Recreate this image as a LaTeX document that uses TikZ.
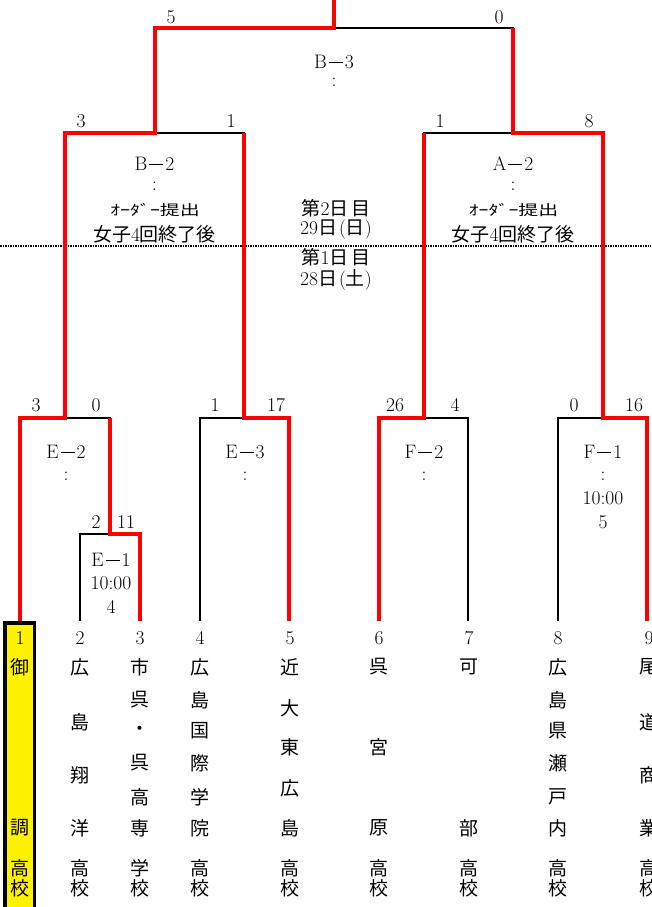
\documentclass[tikz,border=0pt]{standalone}
\usepackage{fontspec}
\usepackage{graphicx}
\newfontfamily\Jf{Noto Sans CJK JP}
\newcommand{\J}{\fontsize{19}{22}\selectfont\Jf}
\newcommand{\dsh}{\hspace{2pt}\rule[6pt]{14pt}{0.9pt}\hspace{2pt}}
\begin{document}
\begin{tikzpicture}[x=1pt,y=-1pt,
  every node/.style={inner sep=0pt,font=\fontsize{19.5}{22}\selectfont},
  blk/.style={line width=2pt,black},
  win/.style={line width=4pt,red},
  dotline/.style={line width=1.5pt,dash pattern=on 1.5pt off 1pt},
  seedbox/.style={draw,fill=yellow,line width=3.5pt,minimum width=29.5pt,minimum height=300pt,anchor=north}
]
\useasboundingbox (0,0) rectangle (651,907);
% leaf tops
\foreach \i/\x in {1/20,2/80,3/140,4/200,5/289,6/379,7/468,8/558,9/647}
  \coordinate (t\i) at (\x,621);
% matches: left corner, right corner, centre
\coordinate (E1-l) at (80,534);   \coordinate (E1-r) at (140,534);   \coordinate (E1) at (110,534);
\coordinate (E2-l) at (20,418);   \coordinate (E2-r) at (110,418);   \coordinate (E2) at (65,418);
\coordinate (E3-l) at (200,418);  \coordinate (E3-r) at (289,418);   \coordinate (E3) at (244,418);
\coordinate (F2-l) at (379,418);  \coordinate (F2-r) at (468,418);   \coordinate (F2) at (423.5,418);
\coordinate (F1-l) at (558,418);  \coordinate (F1-r) at (647,418);   \coordinate (F1) at (602.5,418);
\coordinate (B2-l) at (65,133);   \coordinate (B2-r) at (244,133);   \coordinate (B2) at (154.5,133);
\coordinate (A2-l) at (423.5,133);\coordinate (A2-r) at (602.5,133); \coordinate (A2) at (513,133);
\coordinate (B3-l) at (154.5,28); \coordinate (B3-r) at (513,28);    \coordinate (B3) at (333.75,28);
\coordinate (top) at (333.75,-10);
\coordinate (dl) at (0,246); \coordinate (dr) at (651,246);

% day separator
\draw[dotline] (dl) -- (dr);

% seed box
\node[seedbox] (seed) at (19.75,621) {};

% black brackets
\draw[blk] (t2) -- (E1-l) -- (E1-r) -- (t3);
\draw[blk] (t1) -- (E2-l) -- (E2-r) -- (E1);
\draw[blk] (t4) -- (E3-l) -- (E3-r) -- (t5);
\draw[blk] (t6) -- (F2-l) -- (F2-r) -- (t7);
\draw[blk] (t8) -- (F1-l) -- (F1-r) -- (t9);
\draw[blk] (E2) -- (B2-l) -- (B2-r) -- (E3);
\draw[blk] (F2) -- (A2-l) -- (A2-r) -- (F1);
\draw[blk] (B2) -- (B3-l) -- (B3-r) -- (A2);

% winners
\draw[win] (t1) -- (E2-l) -- (E2) -- (B2-l) -- (B2) -- (B3-l) -- (B3) -- (top);
\draw[win] (t3) -- (E1-r) -- (E1) -- (E2-r);
\draw[win] (t5) -- (E3-r) -- (E3) -- (B2-r);
\draw[win] (t6) -- (F2-l) -- (F2) -- (A2-l);
\draw[win] (t9) -- (F1-r) -- (F1) -- (A2-r) -- (A2) -- (B3-r);

% scores
\node (sB3l) at (171,17) {5};   \node (sB3r) at (499,17) {0};
\node (sB2l) at (81,121) {3};   \node (sB2r) at (231,121) {1};
\node (sA2l) at (440,121) {1};  \node (sA2r) at (589,121) {8};
\node (sE2l) at (36,405) {3};   \node (sE2r) at (96,405) {0};
\node (sE3l) at (215,405) {1};  \node (sE3r) at (276,405) {17};
\node (sF2l) at (395,405) {26}; \node (sF2r) at (455,405) {4};
\node (sF1l) at (574,405) {0};  \node (sF1r) at (634,405) {16};
\node (sE1l) at (96,522) {2};   \node (sE1r) at (126,522) {11};

% match labels
\node (lB3a) at (334,62) {B\dsh 3};  \node (lB3b) at (334,82) {:};
\node (lB2a) at (154.5,164) {B\dsh 2}; \node (lB2b) at (154.5,186) {:};
\node (lB2c) at (155,210) {\scalebox{1.05}[0.75]{\J ｵｰﾀﾞｰ提出}};
\node (lB2d) at (154.5,234) {{\J 女子}4{\J 回終了後}};
\node (lA2a) at (513,164) {A\dsh 2}; \node (lA2b) at (513,186) {:};
\node (lA2c) at (513.5,210) {\scalebox{1.05}[0.75]{\J ｵｰﾀﾞｰ提出}};
\node (lA2d) at (513,234) {{\J 女子}4{\J 回終了後}};
\node (day2a) at (336,208) {{\J 第}2{\J 日\hspace{3pt}目}};
\node (day2b) at (336,230) {29{\J 日}\hspace{2pt}({\J 日})};
\node (day1a) at (336,257) {{\J 第}1{\J 日\hspace{3pt}目}};
\node (day1b) at (336,280) {28{\J 日}\hspace{2pt}({\J 土})};
\node (lE2a) at (66,452) {E\dsh 2}; \node (lE2b) at (66,476) {:};
\node (lE3a) at (245,452) {E\dsh 3}; \node (lE3b) at (245,476) {:};
\node (lF2a) at (424,452) {F\dsh 2}; \node (lF2b) at (424,476) {:};
\node (lF1a) at (603,452) {F\dsh 1}; \node (lF1b) at (603,476) {:};
\node (lF1c) at (603,498) {10:00}; \node (lF1d) at (603,522) {5};
\node (lE1a) at (111,560) {E\dsh 1}; \node (lE1b) at (111,583) {10:00};
\node (lE1c) at (111,607) {4};

% entry numbers
\foreach \i/\x in {1/20,2/80,3/140,4/200,5/290,6/379,7/469,8/558,9/649}
  \node (num\i) at (\x,638) {\i};

% school names
\foreach \c/\y [count=\k] in {御/667,調/828,高/868,校/888}
  \node (a\k) at (20,\y) {\J\c};
\foreach \c/\y [count=\k] in {広/667,島/722,翔/775,洋/828,高/868,校/888}
  \node (b\k) at (80,\y) {\J\c};
\foreach \c/\y [count=\k] in {市/667,呉/700,・/731,呉/763,高/797,専/828,学/868,校/888}
  \node (c\k) at (140,\y) {\J\c};
\foreach \c/\y [count=\k] in {広/667,島/700,国/731,際/763,学/797,院/828,高/868,校/888}
  \node (d\k) at (200,\y) {\J\c};
\foreach \c/\y [count=\k] in {近/667,大/708,東/747,広/788,島/828,高/868,校/888}
  \node (e\k) at (290,\y) {\J\c};
\foreach \c/\y [count=\k] in {呉/667,宮/747,原/828,高/868,校/888}
  \node (f\k) at (379,\y) {\J\c};
\foreach \c/\y [count=\k] in {可/667,部/828,高/868,校/888}
  \node (g\k) at (469,\y) {\J\c};
\foreach \c/\y [count=\k] in {広/667,島/700,県/731,瀬/763,戸/797,内/828,高/868,校/888}
  \node (h\k) at (558,\y) {\J\c};
\foreach \c/\y [count=\k] in {尾/667,道/722,商/775,業/828,高/868,校/888}
  \node (i\k) at (649,\y) {\J\c};
\end{tikzpicture}
\end{document}
